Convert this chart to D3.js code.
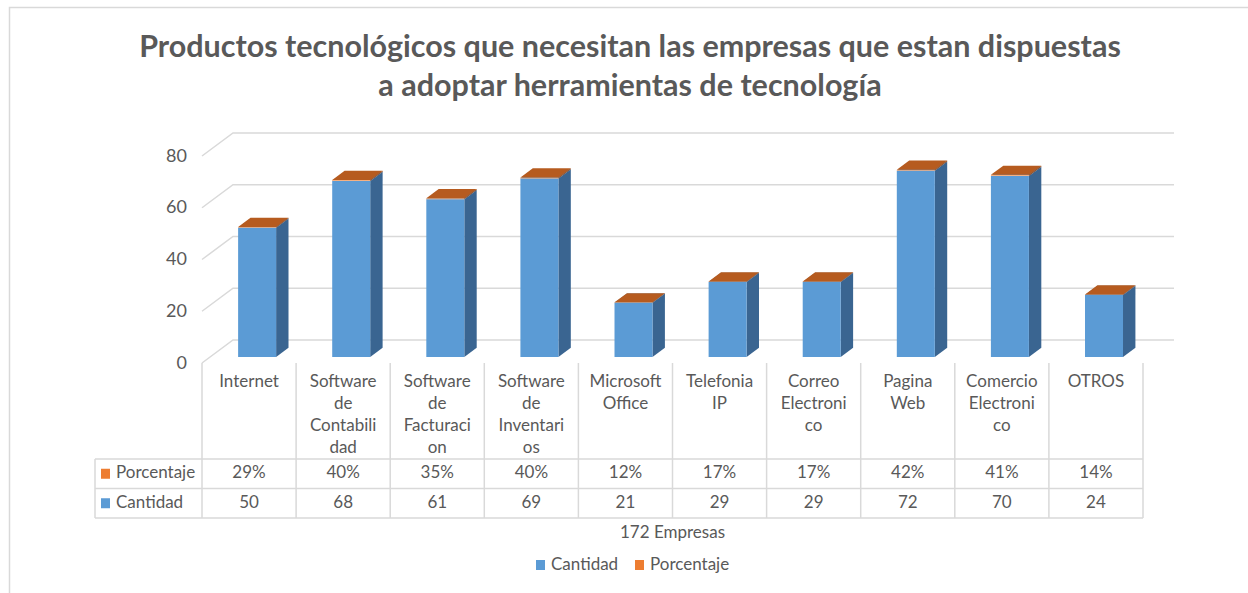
<!DOCTYPE html>
<html>
<head>
<meta charset="utf-8">
<script src="https://cdn.jsdelivr.net/npm/d3@7"></script>
<style>
    body { margin: 0; background: #fff; }
    svg { display: block; }
    text { font-family: Lato, "Liberation Sans", sans-serif; fill: #595959; }
</style>
</head>
<body>
<svg id="chart" width="1248" height="593"></svg>
<script>

// data
const categories = ["Internet", "Software de Contabilidad", "Software de Facturacion",
    "Software de Inventarios", "Microsoft Office", "Telefonia IP", "Correo Electronico",
    "Pagina Web", "Comercio Electronico", "OTROS"];
const categoryLines = [["Internet"], ["Software", "de", "Contabili", "dad"],
    ["Software", "de", "Facturaci", "on"], ["Software", "de", "Inventari", "os"],
    ["Microsoft", "Office"], ["Telefonia", "IP"], ["Correo", "Electroni", "co"],
    ["Pagina", "Web"], ["Comercio", "Electroni", "co"], ["OTROS"]];
const cantidad = [50, 68, 61, 69, 21, 29, 29, 72, 70, 24];
const porcentaje = [0.29, 0.40, 0.35, 0.40, 0.12, 0.17, 0.17, 0.42, 0.41, 0.14];
const yTicks = [0, 20, 40, 60, 80];
const seriesNames = ["Cantidad", "Porcentaje"];
const titleLines = ["Productos tecnológicos que necesitan las empresas que estan dispuestas",
    "a adoptar herramientas de tecnología"];
const axisTitle = "172 Empresas";

const colors = {
    Cantidad: {front: "#5B9BD5", side: "#3A6591", top: "#4A86BF", key: "#5B9BD5"},
    Porcentaje: {front: "#F4B183", side: "#9E4F1B", top: "#B65B1F", key: "#ED7D31"}
};
const gridColor = "#D9D9D9";

let svg = d3.select("#chart");

// outer chart border
svg.append("rect")
    .attr("x", 9.5).attr("y", 7.5)
    .attr("width", 1400).attr("height", 800)
    .attr("fill", "none").attr("stroke", gridColor).attr("stroke-width", 1.5);

// title
svg.append("g").selectAll("text").data(titleLines).enter().append("text")
    .attr("x", 630)
    .attr("y", (d, i) => 57 + i * 39)
    .attr("text-anchor", "middle")
    .style("font-size", "30.5px")
    .style("font-weight", "bold")
    .text(d => d);

// 3d projection: front plane plus a depth offset
let depth = {dx: 31, dy: -23};
let plot = {left: 202, right: 1143, bottom: 363, top: 156};

let xScale = d3.scaleBand().domain(categories).range([plot.left, plot.right]);
let yScale = d3.scaleLinear().domain([0, 80]).range([plot.bottom, plot.top]);

function pt(x, v, d) {
    return [x + d * depth.dx, yScale(v) + d * depth.dy];
}

// walls: side wall diagonals + back wall lines
let grid = svg.append("g").attr("stroke", gridColor).attr("stroke-width", 1.5).attr("fill", "none");
yTicks.forEach(v => {
    let p0 = pt(plot.left, v, 0), p1 = pt(plot.left, v, 1), p2 = pt(plot.right, v, 1);
    grid.append("path").attr("d", "M" + p0 + "L" + p1 + "L" + p2);
});

// y axis labels
svg.append("g").selectAll("text").data(yTicks).enter().append("text")
    .attr("x", 187)
    .attr("y", d => yScale(d) + 1)
    .attr("text-anchor", "end")
    .attr("dominant-baseline", "middle")
    .style("font-size", "18px")
    .text(d => d);

// bars (stacked 3d boxes)
let barWidth = 38;
let d1 = 0.26, d2 = 0.66;

function box(g, xl, xr, v0, v1, c) {
    let poly = pts => pts.map(p => p.join(",")).join(" ");
    g.append("polygon").attr("fill", c.side)
        .attr("points", poly([pt(xr, v0, d1), pt(xr, v0, d2), pt(xr, v1, d2), pt(xr, v1, d1)]));
    g.append("polygon").attr("fill", c.front)
        .attr("points", poly([pt(xl, v0, d1), pt(xr, v0, d1), pt(xr, v1, d1), pt(xl, v1, d1)]));
    g.append("polygon").attr("fill", c.top)
        .attr("points", poly([pt(xl, v1, d1), pt(xr, v1, d1), pt(xr, v1, d2), pt(xl, v1, d2)]));
}

let bars = svg.append("g");
categories.forEach((c, i) => {
    let cx = xScale(c) + xScale.bandwidth() / 2;
    let xl = cx - barWidth / 2, xr = cx + barWidth / 2;
    let g = bars.append("g");
    box(g, xl, xr, 0, cantidad[i], colors.Cantidad);
    box(g, xl, xr, cantidad[i], cantidad[i] + porcentaje[i], colors.Porcentaje);
});

// data table
let table = {keyLeft: 95, headTop: 363, rowTop: 459, rowH: 29.5};
let tg = svg.append("g");
let lines = tg.append("g").attr("stroke", gridColor).attr("stroke-width", 1.5);
let tableBottom = table.rowTop + 2 * table.rowH;

let colEdges = categories.map(c => xScale(c)).concat([plot.right]);
colEdges.forEach(x => {
    lines.append("line").attr("x1", x).attr("x2", x)
        .attr("y1", table.headTop).attr("y2", tableBottom);
});
lines.append("line").attr("x1", table.keyLeft).attr("x2", table.keyLeft)
    .attr("y1", table.rowTop).attr("y2", tableBottom);
[0, 1, 2].forEach(r => {
    let y = table.rowTop + r * table.rowH;
    lines.append("line").attr("x1", table.keyLeft).attr("x2", plot.right)
        .attr("y1", y).attr("y2", y);
});

// category headers
categoryLines.forEach((ls, i) => {
    let cx = xScale(categories[i]) + xScale.bandwidth() / 2;
    tg.append("g").selectAll("text").data(ls).enter().append("text")
        .attr("x", cx)
        .attr("y", (d, j) => 383 + j * 22)
        .attr("text-anchor", "middle")
        .attr("dominant-baseline", "middle")
        .style("font-size", "17px")
        .text(d => d);
});

// table rows: Porcentaje then Cantidad
let rows = [
    {name: "Porcentaje", values: porcentaje.map(d3.format(".0%"))},
    {name: "Cantidad", values: cantidad.map(String)}
];
rows.forEach((row, r) => {
    let cy = table.rowTop + r * table.rowH + table.rowH / 2;
    tg.append("rect")
        .attr("x", 101).attr("y", cy - 5)
        .attr("width", 9).attr("height", 10)
        .attr("fill", colors[row.name].key);
    tg.append("text")
        .attr("x", 116).attr("y", cy)
        .attr("dominant-baseline", "middle")
        .style("font-size", "17px")
        .text(row.name);
    tg.append("g").selectAll("text").data(row.values).enter().append("text")
        .attr("x", (d, i) => xScale(categories[i]) + xScale.bandwidth() / 2)
        .attr("y", cy)
        .attr("text-anchor", "middle")
        .attr("dominant-baseline", "middle")
        .style("font-size", "17px")
        .text(d => d);
});

// axis title
svg.append("text")
    .attr("x", (plot.left + plot.right) / 2)
    .attr("y", 534)
    .attr("text-anchor", "middle")
    .attr("dominant-baseline", "middle")
    .style("font-size", "17px")
    .text(axisTitle);

// legend
let legend = svg.append("g");
let legendX = [536, 635];
seriesNames.forEach((s, i) => {
    legend.append("rect")
        .attr("x", legendX[i]).attr("y", 560)
        .attr("width", 9).attr("height", 10)
        .attr("fill", colors[s].key);
    legend.append("text")
        .attr("x", legendX[i] + 15).attr("y", 566)
        .attr("dominant-baseline", "middle")
        .style("font-size", "17px")
        .text(s);
});

</script>
</body>
</html>
